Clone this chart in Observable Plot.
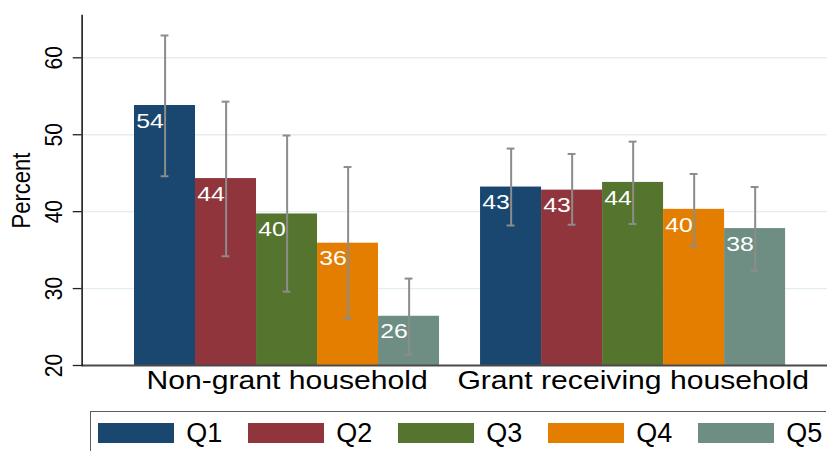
<!DOCTYPE html>
<html>
<head>
<meta charset="utf-8">
<script src="https://cdn.jsdelivr.net/npm/d3@7"></script>
<script src="https://cdn.jsdelivr.net/npm/@observablehq/plot@0.6"></script>
<style>
  html, body { margin: 0; padding: 0; background: #fff; overflow: hidden; }
  #chart { position: relative; width: 827px; height: 411px; }
  #chart svg { display: block; position: absolute; left: 0; top: 0; }
  .qlegend-swatches {
    box-sizing: border-box;
    margin: 0 0 0 90px !important;
    width: 736px;
    min-height: 0 !important;
    border-top: 1.5px solid #5c5c5c;
    border-left: 1.5px solid #5c5c5c;
    padding: 10.5px 0 9px 6.5px;
    font-family: "Liberation Sans", Arial, Helvetica, sans-serif !important;
    font-size: 27px !important;
    line-height: 20px;
    color: #000;
    display: flex !important;
    flex-wrap: nowrap !important;
    align-items: center;
    overflow: visible !important;
  }
  .qlegend-swatch {
    width: 150px; flex: none; margin: 0 !important;
    display: flex !important; align-items: center;
    overflow: visible !important; white-space: nowrap;
    line-height: 20px;
  }
  .qlegend-swatch:last-child { width: 130px; }
  .qlegend-swatch * { overflow: visible !important; }
  .qlegend-swatch > svg { margin-right: 12.7px !important; flex: none; }
</style>
</head>
<body>
<div id="chart"></div>
<script>
// Household groups and income quintiles
const groups = ["Non-grant household", "Grant receiving household"];
const quintiles = ["Q1", "Q2", "Q3", "Q4", "Q5"];
const quintileColors = ["#1a476f", "#90353b", "#55752f", "#e37e00", "#6e8e84"];

// Percent per quintile, with 95% confidence bounds
const nonGrantPct = [53.8, 44.3, 39.7, 35.9, 26.4];
const nonGrantLow = [44.6, 34.2, 29.6, 26.1, 21.4];
const nonGrantHigh = [62.9, 54.3, 49.9, 45.8, 31.3];

const grantPct = [43.2, 42.8, 43.8, 40.3, 37.8];
const grantLow = [38.2, 38.3, 38.4, 35.5, 32.3];
const grantHigh = [48.2, 47.5, 49.1, 44.9, 43.2];

// Value axis
const yBase = 20;
const yTop = 65.5;
const yTicks = [20, 30, 40, 50, 60];

const pctByGroup = [nonGrantPct, grantPct];
const lowByGroup = [nonGrantLow, grantLow];
const highByGroup = [nonGrantHigh, grantHigh];

const rows = groups.flatMap((group, gi) =>
  quintiles.map((quintile, qi) => ({
    group,
    quintile,
    pct: pctByGroup[gi][qi],
    low: lowByGroup[gi][qi],
    high: highByGroup[gi][qi]
  }))
);

// Drawn on a narrower canvas, then widened to the page width
const W = 700, H = 411, pageWidth = 827;
const errColor = "#8c8c8c";

// Three stacked layers share the same frame and value scale:
// grid behind, faceted bars in the middle, axes in front.
const frameOptions = {
  width: W,
  height: H,
  marginLeft: 69,
  marginRight: 0,
  marginTop: 15,
  marginBottom: 46,
  y: { domain: [yBase, yTop], label: null, axis: null },
  x: { axis: null }
};

const baseStyle = (background) => ({
  fontFamily: "'Liberation Sans', Arial, Helvetica, sans-serif",
  fontSize: "21px",
  background,
  color: "#000",
  overflow: "visible"
});

const gridLayer = Plot.plot({
  ...frameOptions,
  style: baseStyle("#fff"),
  marks: [
    Plot.ruleY(yTicks.slice(1), { stroke: "#e4edf1", strokeWidth: 1.4 })
  ]
});

const barLayer = Plot.plot({
  ...frameOptions,
  style: baseStyle("transparent"),
  fx: { domain: groups, paddingInner: 0.1185, paddingOuter: 0.1364, align: 0.556, round: false, label: null },
  x: { domain: quintiles, padding: 0, round: false, axis: null },
  color: { type: "ordinal", domain: quintiles, range: quintileColors },
  marks: [
    Plot.barY(rows, { fx: "group", x: "quintile", y1: yBase, y2: "pct", fill: "quintile" }),

    // confidence intervals
    Plot.ruleX(rows, { fx: "group", x: "quintile", y1: "low", y2: "high", stroke: errColor, strokeWidth: 1.7 }),
    Plot.tickY(rows, { fx: "group", x: "quintile", y: "high", stroke: errColor, strokeWidth: 2, insetLeft: 22.5, insetRight: 22.5 }),
    Plot.tickY(rows, { fx: "group", x: "quintile", y: "low", stroke: errColor, strokeWidth: 2, insetLeft: 22.5, insetRight: 22.5 }),

    // rounded value inside each bar
    Plot.text(rows, {
      fx: "group", x: "quintile", y: "pct",
      text: d => String(Math.round(d.pct)),
      fill: "#fff", fontSize: 21,
      textAnchor: "start", lineAnchor: "middle",
      dx: -24.5, dy: 15.5
    }),

    // group labels
    Plot.axisFx({ anchor: "bottom", tickSize: 0, tickPadding: 5.3, fontSize: 25.5, label: null })
  ]
});

const axisLayer = Plot.plot({
  ...frameOptions,
  style: baseStyle("transparent"),
  marks: [
    Plot.ruleY([yBase], { stroke: "#4a4a4a", strokeWidth: 2 }),
    Plot.frame({ anchor: "left", stroke: "#111", strokeWidth: 1.3 }),
    Plot.axisY({
      ticks: yTicks, tickSize: 7.45, tickPadding: 16.45, tickRotate: -90,
      textAnchor: "middle", lineAnchor: "middle",
      fontSize: 21, stroke: "#222", strokeWidth: 1.3, label: null
    }),
    Plot.text(["Percent"], {
      text: d => d, frameAnchor: "left", rotate: -90,
      textAnchor: "middle", lineAnchor: "middle",
      dx: -51.4, fontSize: 22
    })
  ]
});

const root = document.getElementById("chart");
for (const svg of [gridLayer, barLayer, axisLayer]) {
  svg.setAttribute("width", pageWidth);
  svg.setAttribute("preserveAspectRatio", "none");
  svg.style.width = pageWidth + "px";
  svg.style.height = H + "px";
  svg.style.maxWidth = "none";
  root.appendChild(svg);
}

const legend = Plot.legend({
  color: { type: "ordinal", domain: quintiles, range: quintileColors },
  legend: "swatches",
  className: "qlegend",
  swatchWidth: 76,
  swatchHeight: 20
});
document.body.appendChild(legend);
</script>
</body>
</html>
